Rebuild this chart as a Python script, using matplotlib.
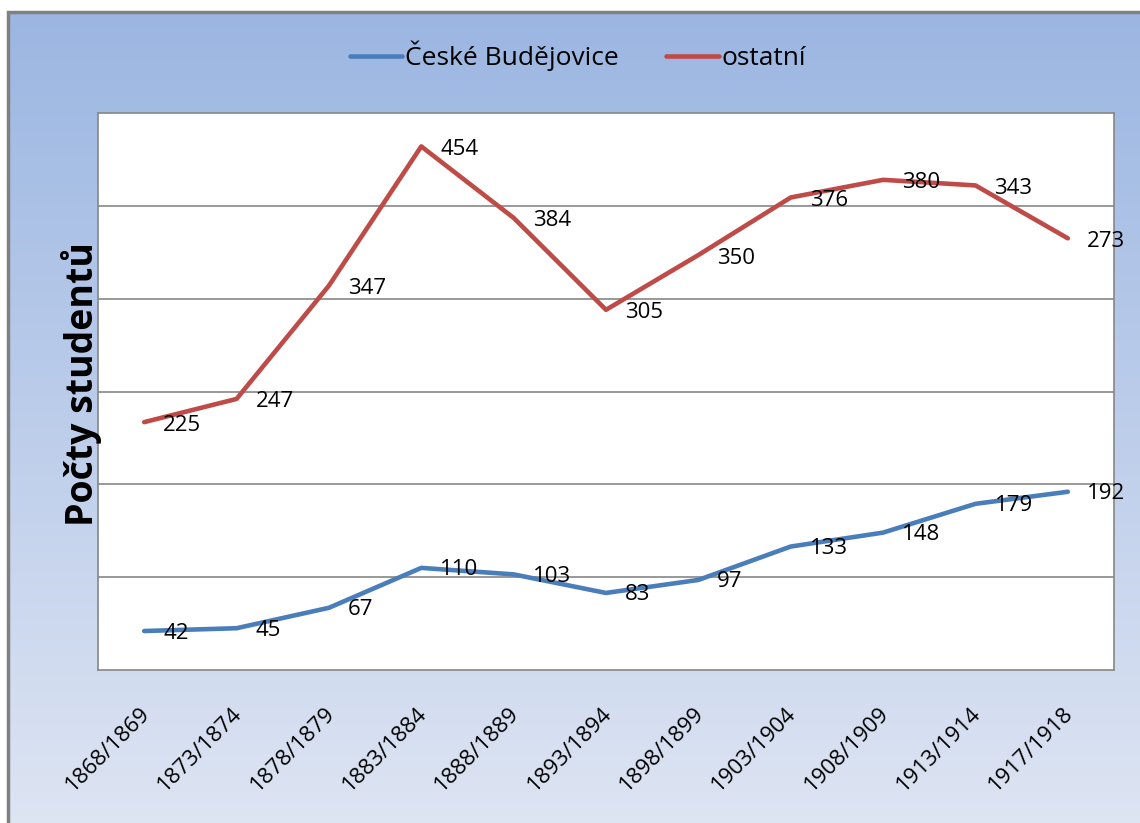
import numpy as np
import matplotlib.pyplot as plt
import matplotlib.transforms as mtrans
from matplotlib.patches import Rectangle

plt.rcParams['font.family'] = ['Open Sans', 'DejaVu Sans']

roky = ["1868/1869", "1873/1874", "1878/1879", "1883/1884", "1888/1889", "1893/1894",
        "1898/1899", "1903/1904", "1908/1909", "1913/1914", "1917/1918"]
budejovice = [42, 45, 67, 110, 103, 83, 97, 133, 148, 179, 192]
ostatni = [225, 247, 347, 454, 384, 305, 350, 376, 380, 343, 273]

# skladany spojnicovy graf (ostatni nad Budejovicemi)
ostatni_kum = np.array(budejovice) + np.array(ostatni)

W, H = 1140, 823
fig = plt.figure(figsize=(W / 100, H / 100), dpi=100)

# pozadi s prechodem, ramecek pokracuje za pravy a dolni okraj
bg = fig.add_axes([8 / W, -0.01, 1.0, 1.01 - 12 / H])
grad = np.linspace(0, 1, 256).reshape(-1, 1)
top = np.array([0.608, 0.714, 0.886])
bot = np.array([0.871, 0.898, 0.953])
img = top + (bot - top) * grad[:, :, None]
bg.imshow(img, aspect='auto', extent=[0, 1, 0, 1], origin='upper')
bg.set_xlim(0, 1)
bg.set_ylim(0, 1)
bg.axis('off')
bg.add_patch(Rectangle((0, 0), 1, 1, transform=bg.transAxes, fill=False,
                       edgecolor='#808080', linewidth=2.5, clip_on=False))

ax = fig.add_axes([98 / W, 1 - 670 / H, (1114 - 98) / W, (670 - 113) / H])
ax.set_facecolor('white')
x = np.arange(len(roky))

ax.plot(x, budejovice, color='#4a7ebb', linewidth=3.3, label='České Budějovice',
        solid_capstyle='round')
ax.plot(x, ostatni_kum, color='#be4b48', linewidth=3.3, label='ostatní',
        solid_capstyle='round')

for i in range(len(roky)):
    ax.annotate(str(budejovice[i]), (x[i], budejovice[i]), xytext=(19, -2),
                textcoords='offset pixels', va='center', ha='left',
                fontsize=16, color='black', annotation_clip=False)
    ax.annotate(str(ostatni[i]), (x[i], ostatni_kum[i]), xytext=(19, -3),
                textcoords='offset pixels', va='center', ha='left',
                fontsize=16, color='black', annotation_clip=False)

ax.set_xlim(-0.5, len(roky) - 0.5)
ax.set_ylim(0, 600)
ax.set_yticks([100, 200, 300, 400, 500])
ax.yaxis.grid(True, color='#868686', linewidth=1.2)
ax.set_axisbelow(True)
ax.tick_params(axis='y', left=False, labelleft=False)
ax.tick_params(axis='x', bottom=False, pad=20)
ax.set_xticks(x)
ax.set_xticklabels(roky, rotation=45, ha='right', va='top', fontsize=16)
posun = mtrans.ScaledTranslation(10 / 100, 0, fig.dpi_scale_trans)
for lab in ax.get_xticklabels():
    lab.set_transform(lab.get_transform() + posun)
for s in ax.spines.values():
    s.set_color('#868686')
    s.set_linewidth(1.2)

fig.text(82 / W, 1 - 384 / H, 'Počty studentů', rotation=90, ha='center',
         va='center', fontsize=27, fontweight='bold')

fig.legend(loc='center', bbox_to_anchor=(578 / W, 1 - 56 / H), ncol=2,
           frameon=False, fontsize=19, handlelength=2.0, handletextpad=0.1,
           columnspacing=1.8)

fig.savefig('out.png', dpi=100)
